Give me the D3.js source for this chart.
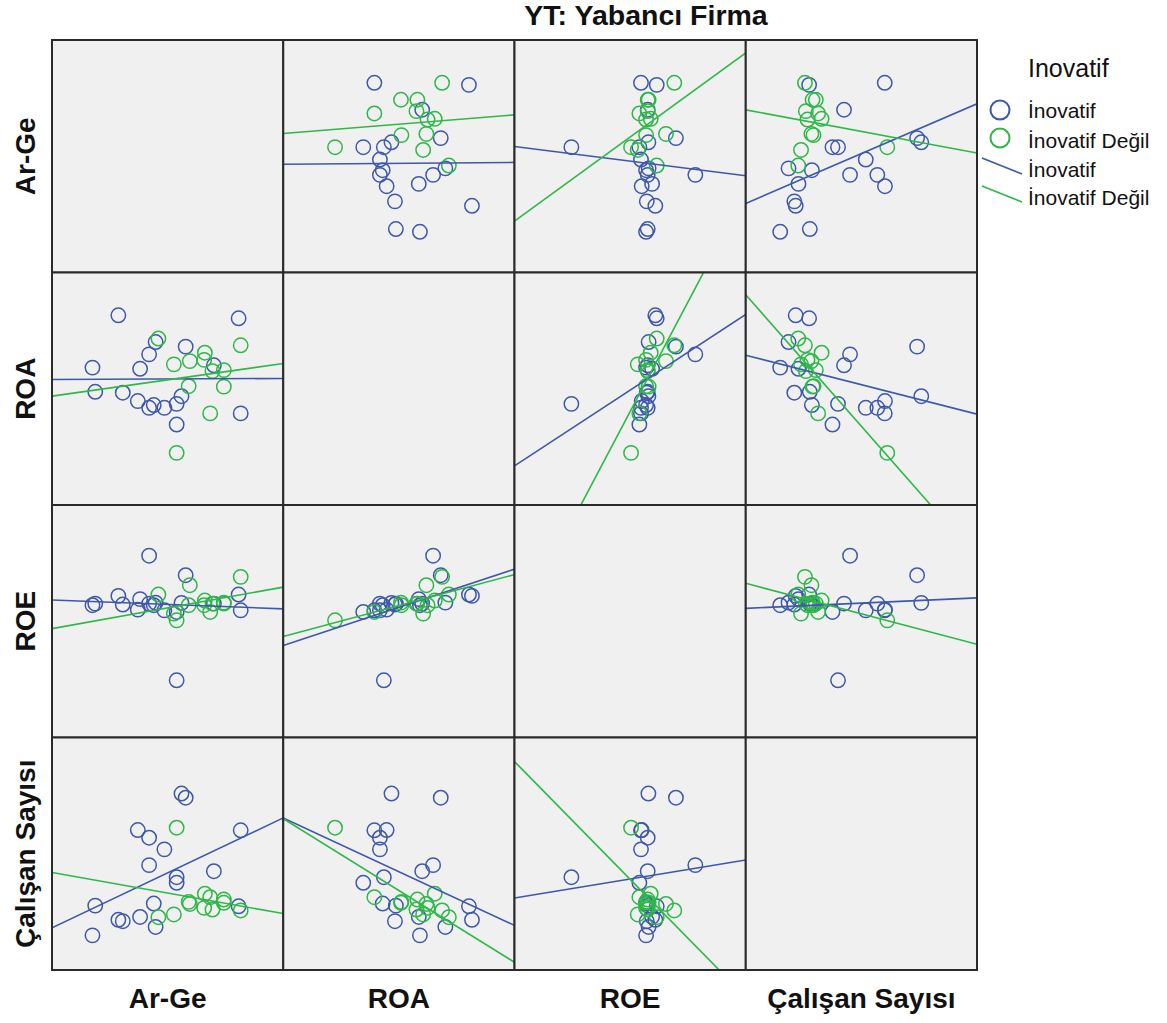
<!DOCTYPE html>
<html>
<head>
<meta charset="utf-8">
<script src="https://cdn.jsdelivr.net/npm/d3@7"></script>
<style>
  body { margin: 0; background: #fff; }
  text { font-family: "Liberation Sans", Arial, sans-serif; fill: #111; }
</style>
</head>
<body>
<div id="chart"></div>
<script>
// values (relative units, 0-100 across each cell)
const variables = ["Ar-Ge", "ROA", "ROE", "Çalışan Sayısı"];
const groups = ["İnovatif", "İnovatif Değil"];
const colors = ["#3e58ac", "#2eb848"];

const firmGroup = [0,0,0,0,0,0,0,0,0,0,0,0,0,0,0,0,0,0, 1,1,1,1,1,1,1,1,1,1,1,1];
const arGe    = [57.8,56.0,42.0,53.9,80.7,28.7,81.6,70.0,38.1,37.1,17.5,18.7,30.6,44.8,42.0,44.0,48.6,53.9,
                 46.0,52.7,59.6,66.1,65.8,69.4,74.3,81.6,59.1,74.3,68.4,53.9];
const roa     = [68.1,46.8,64.8,43.5,80.3,81.6,39.4,60.1,58.6,44.7,59.1,48.7,48.3,70.1,41.8,43.0,41.8,34.6,
                 71.6,60.5,61.9,65.5,62.4,57.6,58.0,68.7,51.1,50.9,39.4,22.4];
const roe     = [69.8,57.9,78.2,24.6,61.5,60.9,54.7,57.6,59.5,55.0,56.9,57.6,57.2,58.0,57.6,56.9,54.7,54.0,
                 61.5,53.3,65.5,58.9,56.9,57.6,57.6,69.1,56.9,58.0,54.0,50.4];
const calisan = [74.1,75.9,45.1,39.9,27.4,21.6,60.1,42.5,22.8,60.2,14.9,27.7,21.0,18.5,56.9,28.6,51.9,37.5,
                 22.7,23.9,28.4,32.8,26.7,26.0,30.3,25.6,29.3,28.9,31.3,61.2];

const series = [arGe, roa, roe, calisan];
const firms = firmGroup.map((g, i) => ({ g, v: series.map(s => s[i]) }));

const width = 1167, height = 1023;
const gridLeft = 52, gridRight = 977, gridTop = 40, gridBottom = 970;
const n = variables.length;

const svg = d3.select("#chart").append("svg")
    .attr("width", width)
    .attr("height", height);

const colPos = d3.scaleLinear().domain([0, n]).range([gridLeft, gridRight]);
const rowPos = d3.scaleLinear().domain([0, n]).range([gridTop, gridBottom]);
const cellW = (gridRight - gridLeft) / n;
const cellH = (gridBottom - gridTop) / n;

const x = d3.scaleLinear().domain([0, 100]).range([0, cellW]);
const y = d3.scaleLinear().domain([0, 100]).range([cellH, 0]);

// least squares y on x
function fit(pts) {
    const mx = d3.mean(pts, p => p[0]), my = d3.mean(pts, p => p[1]);
    const sxy = d3.sum(pts, p => (p[0] - mx) * (p[1] - my));
    const sxx = d3.sum(pts, p => (p[0] - mx) ** 2);
    const b = sxy / sxx;
    return { b, a: my - b * mx };
}

const defs = svg.append("defs");
defs.append("clipPath").attr("id", "cellclip")
    .append("rect").attr("width", cellW).attr("height", cellH);

for (let r = 0; r < n; r++) {
    for (let c = 0; c < n; c++) {
        const cell = svg.append("g")
            .attr("transform", `translate(${colPos(c)},${rowPos(r)})`);

        cell.append("rect")
            .attr("width", cellW)
            .attr("height", cellH)
            .attr("fill", "#f0f0f0");

        if (r !== c) {
            const inner = cell.append("g").attr("clip-path", "url(#cellclip)");

            groups.forEach((gName, gi) => {
                const pts = firms.filter(f => f.g === gi).map(f => [f.v[c], f.v[r]]);
                inner.append("g")
                    .selectAll("circle")
                    .data(pts)
                    .enter()
                    .append("circle")
                    .attr("cx", d => x(d[0]))
                    .attr("cy", d => y(d[1]))
                    .attr("r", 7.2)
                    .attr("fill", "none")
                    .attr("stroke", colors[gi])
                    .attr("stroke-width", 1.5);
            });

            groups.forEach((gName, gi) => {
                const pts = firms.filter(f => f.g === gi).map(f => [f.v[c], f.v[r]]);
                const { a, b } = fit(pts);
                inner.append("line")
                    .attr("x1", x(0))
                    .attr("y1", y(a))
                    .attr("x2", x(100))
                    .attr("y2", y(a + b * 100))
                    .attr("stroke", colors[gi])
                    .attr("stroke-width", 1.6);
            });
        }

        cell.append("rect")
            .attr("width", cellW)
            .attr("height", cellH)
            .attr("fill", "none")
            .attr("stroke", "#2a2a2a")
            .attr("stroke-width", 2);
    }
}

// title
svg.append("text")
    .attr("x", 646)
    .attr("y", 25)
    .attr("text-anchor", "middle")
    .style("font-size", "28.5px")
    .style("font-weight", "700")
    .text("YT: Yabancı Firma");

// column labels
svg.selectAll(".col-label")
    .data(variables)
    .enter()
    .append("text")
    .attr("x", (d, i) => colPos(i) + cellW / 2)
    .attr("y", 1008)
    .attr("text-anchor", "middle")
    .style("font-size", "28px")
    .style("font-weight", "700")
    .text(d => d);

// row labels
svg.selectAll(".row-label")
    .data(variables)
    .enter()
    .append("text")
    .attr("transform", (d, i) => `translate(35,${rowPos(i) + cellH / 2}) rotate(-90)`)
    .attr("text-anchor", "middle")
    .style("font-size", "28px")
    .style("font-weight", "700")
    .text(d => d);

// legend
const legend = svg.append("g");
legend.append("text")
    .attr("x", 1028)
    .attr("y", 77)
    .style("font-size", "25px")
    .text("Inovatif");

groups.forEach((gName, gi) => {
    legend.append("circle")
        .attr("cx", 1000)
        .attr("cy", 110 + gi * 28)
        .attr("r", 9.5)
        .attr("fill", "none")
        .attr("stroke", colors[gi])
        .attr("stroke-width", 2);
    legend.append("text")
        .attr("x", 1028)
        .attr("y", 118 + gi * 30)
        .style("font-size", "21px")
        .text(gName);

    legend.append("line")
        .attr("x1", 982)
        .attr("y1", 158 + gi * 28)
        .attr("x2", 1022)
        .attr("y2", 174 + gi * 28)
        .attr("stroke", colors[gi])
        .attr("stroke-width", 1.6);
    legend.append("text")
        .attr("x", 1028)
        .attr("y", 177 + gi * 28)
        .style("font-size", "21px")
        .text(gName);
});
</script>
</body>
</html>
